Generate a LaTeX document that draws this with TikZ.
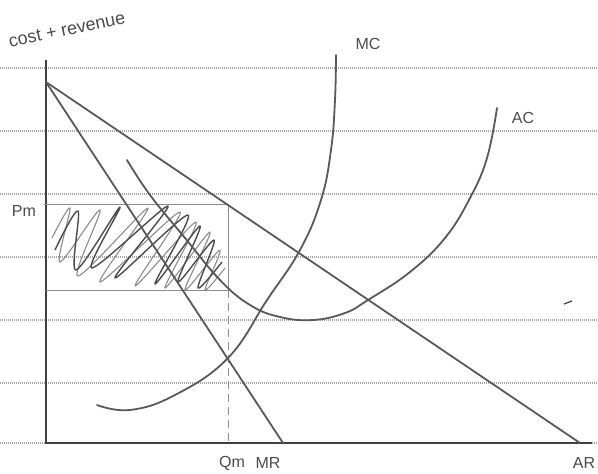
\documentclass[tikz,border=0pt]{standalone}
\usepackage{fontspec}
\setmainfont{Liberation Sans}
\begin{document}
\begin{tikzpicture}[x=1pt,y=-1pt,
  rule/.style={draw=gray!70, line width=1.2pt, dash pattern=on 0.8pt off 1.2pt},
  axisline/.style={draw=black!75, line width=1.8pt},
  curve/.style={draw=black!65, line width=1.8pt, line cap=round},
  guide/.style={draw=black!45, line width=0.9pt},
  hand/.style={text=black!70, font=\fontsize{16}{16}\selectfont, inner sep=0pt},
  scribdark/.style={draw=black!70, line width=1.4pt, line join=round},
  scriblight/.style={draw=black!45, line width=1.1pt, line join=round}]
\useasboundingbox (0,0) rectangle (598,474);
\fill[white] (0,0) rectangle (598,474);
% ruled paper lines
\foreach \yy in {68,131,194,257,320,383,443}
  \draw[rule] (0,\yy) -- (598,\yy);
% coordinates
\coordinate (ytop) at (46,60);
\coordinate (O) at (46,443);
\coordinate (xend) at (592,443);
\coordinate (D) at (46,82);
\coordinate (ARend) at (580,443);
\coordinate (MRend) at (283,443);
\coordinate (Pl) at (44,204);
\coordinate (Pr) at (228,204);
\coordinate (Cl) at (46,290);
\coordinate (Cr) at (228,290);
\coordinate (Qm) at (228,443);
% shading scribble
\draw[scriblight] plot[smooth, tension=0.55] coordinates {(52,238) (70,208) (60,262) (100,210) (78,276) (148,208) (100,282) (180,212) (135,286) (196,222) (165,288) (210,232) (185,290) (220,250) (205,290) (225,268)};
\draw[scribdark] plot[smooth, tension=0.55] coordinates {(55,250) (78,211) (76,270) (120,207) (92,268) (168,206) (115,278) (188,215) (155,284) (200,226) (178,282) (214,240) (198,288) (222,262)};
% axes
\draw[axisline] (ytop) -- (O) -- (xend);
% Pm box
\draw[guide] (Pl) -- (Pr) -- (Cr);
\draw[guide] (Cl) -- (Cr);
\draw[guide, dash pattern=on 8pt off 5pt] (Cr) -- (Qm);
% AR and MR
\draw[curve] (D) -- (ARend);
\draw[curve] (D) -- (MRend);
% MC curve
\draw[curve] plot[smooth, tension=0.7] coordinates {(97,405) (130,410) (175,395) (228,358) (267,300) (300,250) (321,200) (331,150) (335,100) (336,55)};
% AC curve
\draw[curve] plot[smooth, tension=0.7] coordinates {(127,160) (150,195) (185,238) (220,280) (250,305) (280,317) (313,320) (345,313) (368,300) (410,272) (445,238) (470,198) (487,158) (497,108)};
% stray mark
\draw[black!70, line width=1.3pt] (564,304) -- (572,301);
% labels
\node[hand, rotate=12, anchor=south west, font=\fontsize{18}{18}\selectfont] (title) at (10,48) {cost + revenue};
\node[hand] (mc) at (368,44) {MC};
\node[hand] (ac) at (523,118) {AC};
\node[hand] (pm) at (24,211) {Pm};
\node[hand] (qml) at (232,463) {Qm};
\node[hand] (mrl) at (268,463) {MR};
\node[hand] (arl) at (584,463) {AR};
\end{tikzpicture}
\end{document}
